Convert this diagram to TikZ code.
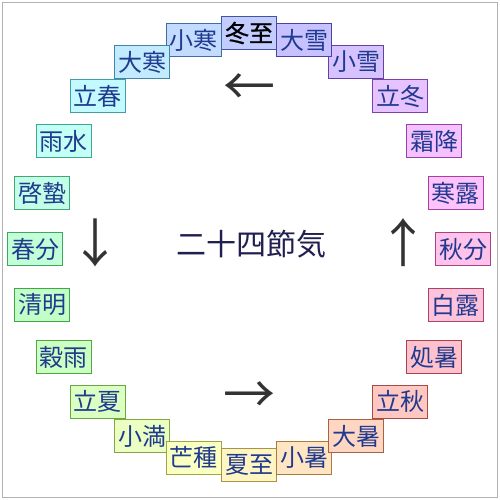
\PassOptionsToPackage{rgb}{xcolor}
\documentclass[tikz,border=0pt]{standalone}
\usepackage{fontspec}
\newfontfamily\jp{Noto Sans CJK JP}
\newfontfamily\jpmid{Noto Sans CJK JP}[FakeBold=0.8]
\definecolor{termtext}{HTML}{203A90}
\definecolor{arrowgray}{HTML}{333333}
\definecolor{titletext}{HTML}{202050}

\begin{document}
\begin{tikzpicture}[x=1pt, y=1pt,
    term/.style={draw=termline, fill=termfill, line width=1.2pt, minimum width=55pt,
      minimum height=33pt, inner sep=0pt, text=termtext, font=\jp\fontsize{24}{24}\selectfont},
    turn/.style={text=arrowgray, font=\jp\fontsize{52}{52}\selectfont}]
    \useasboundingbox (0, 0) rectangle (500, 500);
    \draw[gray!60, line width=1.5pt] (2.5, 2.5) rectangle (497.5, 497.5);

    \foreach \name [count=\i from 0] in {冬至, 小寒, 大寒, 立春, 雨水, 啓蟄, 春分, 清明,
        穀雨, 立夏, 小満, 芒種, 夏至, 小暑, 大暑, 立秋, 処暑, 白露, 秋分, 寒露, 霜降, 立冬, 小雪, 大雪} {
      \pgfmathtruncatemacro{\hue}{mod(590-15*\i, 360)}
      \definecolor{termfill}{Hsb}{\hue, 0.24, 1}
      \definecolor{termline}{Hsb}{\hue, 0.6, 0.65}
      \ifnum\i=0 \def\ink{black}\def\wt{\jpmid}\else\def\ink{termtext}\def\wt{}\fi
      \node[term, text=\ink] (term\i) at ({249+214*cos(90+15*\i)}, {251+216*sin(90+15*\i)}) {\wt\name};
    }

    \node[text=titletext, font=\jp\fontsize{30}{30}\selectfont] (title) at (251, 256) {二十四節気};

    \node[turn] (winter) at (249, 410) {←};
    \node[turn] (spring) at (95, 257) {↓};
    \node[turn] (summer) at (249, 102) {→};
    \node[turn] (autumn) at (403, 257) {↑};
\end{tikzpicture}
\end{document}
